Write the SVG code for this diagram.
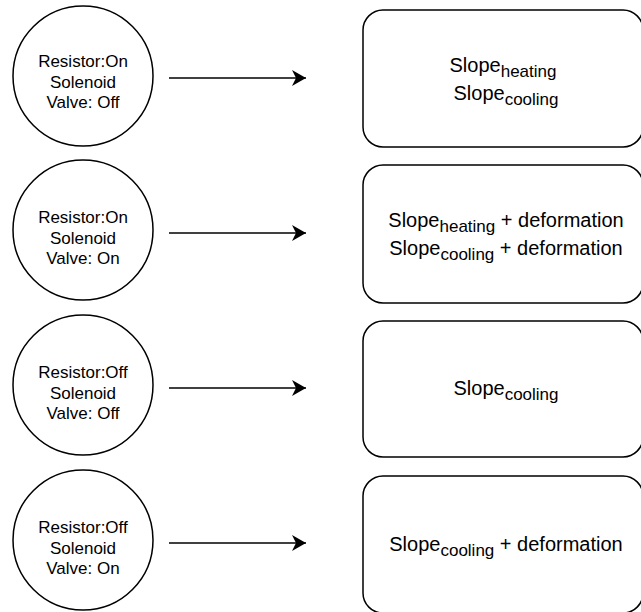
<svg xmlns="http://www.w3.org/2000/svg" width="641" height="612" viewBox="0 0 641 612">
<defs>
<style>
.shape{fill:#fff;stroke:#000;stroke-width:1.5}
.ct{font-family:"Liberation Sans",Arial,sans-serif;font-size:17px;fill:#000;text-anchor:middle}
.rt{font-family:"Liberation Sans",Arial,sans-serif;font-size:20px;fill:#000;text-anchor:middle}
.sub{font-size:17px}
.edge{stroke:#000;stroke-width:1.5;fill:none}
</style>
<marker id="arr" viewBox="0 0 16 16" refX="14" refY="8" markerWidth="16" markerHeight="16" markerUnits="userSpaceOnUse" orient="auto">
<path d="M0,0 L14,8 L0,16 L4,8 Z" fill="#000"/>
</marker>
</defs>
<rect width="641" height="612" fill="#fff"/>
<g id="connectors">
<line class="edge" x1="169" y1="78" x2="306" y2="78" marker-end="url(#arr)"/>
<line class="edge" x1="169" y1="233" x2="306" y2="233" marker-end="url(#arr)"/>
<line class="edge" x1="169" y1="388" x2="306" y2="388" marker-end="url(#arr)"/>
<line class="edge" x1="169" y1="543" x2="306" y2="543" marker-end="url(#arr)"/>
</g>
<g id="state1">
<circle class="shape" cx="83" cy="76" r="70"/>
<text class="ct"><tspan x="83" y="67">Resistor:On</tspan><tspan x="83" y="87.5">Solenoid</tspan><tspan x="83" y="108">Valve: Off</tspan></text>
</g>
<g id="state2">
<circle class="shape" cx="83" cy="230" r="70"/>
<text class="ct"><tspan x="83" y="223">Resistor:On</tspan><tspan x="83" y="243.5">Solenoid</tspan><tspan x="83" y="264">Valve: On</tspan></text>
</g>
<g id="state3">
<circle class="shape" cx="83" cy="385" r="70"/>
<text class="ct"><tspan x="83" y="378">Resistor:Off</tspan><tspan x="83" y="398.5">Solenoid</tspan><tspan x="83" y="419">Valve: Off</tspan></text>
</g>
<g id="state4">
<circle class="shape" cx="83" cy="540" r="70"/>
<text class="ct"><tspan x="83" y="533">Resistor:Off</tspan><tspan x="83" y="553.5">Solenoid</tspan><tspan x="83" y="574">Valve: On</tspan></text>
</g>
<g id="result1">
<rect class="shape" x="363" y="10" width="280" height="137" rx="20" ry="20"/>
<text class="rt" x="503" y="72">Slope<tspan class="sub" dy="5">heating</tspan></text>
<text class="rt" x="506" y="99.5">Slope<tspan class="sub" dy="5">cooling</tspan></text>
</g>
<g id="result2">
<rect class="shape" x="363" y="165" width="280" height="138" rx="20" ry="20"/>
<text class="rt" x="506" y="227">Slope<tspan class="sub" dy="5">heating</tspan><tspan dy="-5"> + deformation</tspan></text>
<text class="rt" x="506" y="254.5">Slope<tspan class="sub" dy="5">cooling</tspan><tspan dy="-5"> + deformation</tspan></text>
</g>
<g id="result3">
<rect class="shape" x="363" y="321" width="280" height="136" rx="20" ry="20"/>
<text class="rt" x="506" y="395">Slope<tspan class="sub" dy="5">cooling</tspan></text>
</g>
<g id="result4">
<rect class="shape" x="363" y="476" width="280" height="137" rx="20" ry="20"/>
<text class="rt" x="506" y="551">Slope<tspan class="sub" dy="5">cooling</tspan><tspan dy="-5"> + deformation</tspan></text>
</g>
</svg>
